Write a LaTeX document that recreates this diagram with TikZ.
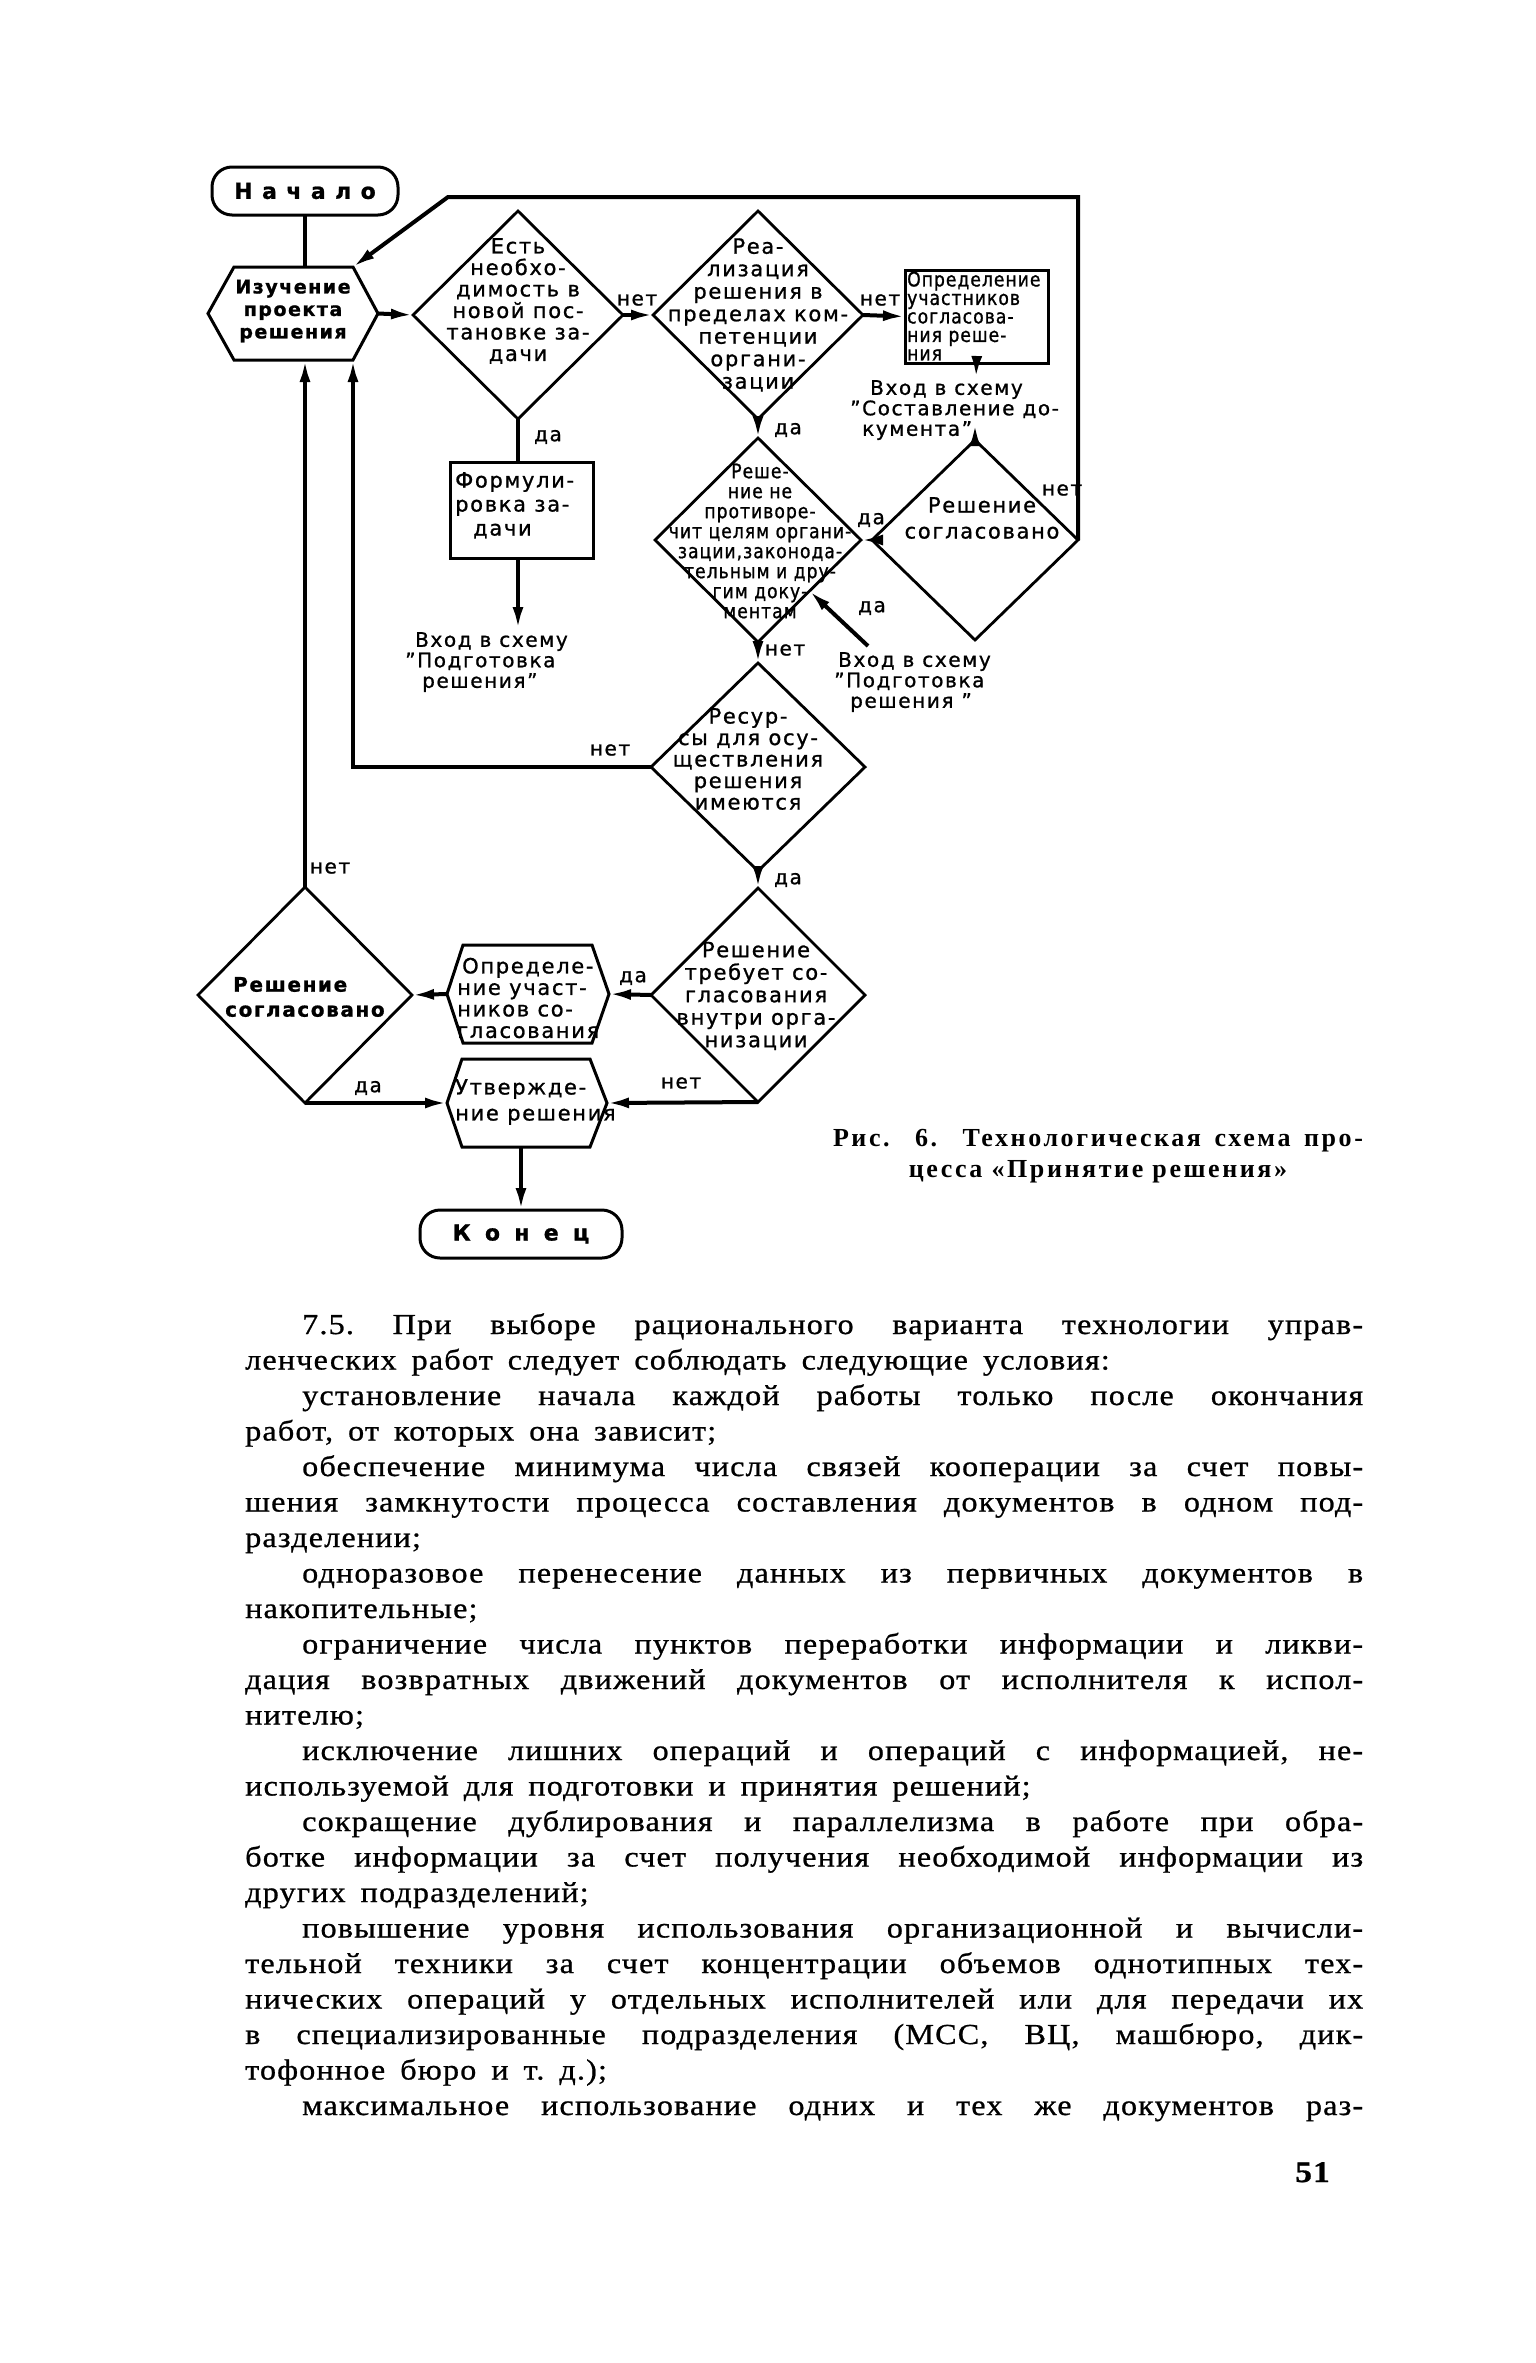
\documentclass[tikz,border=0pt]{standalone}
\usepackage{fontspec}
\setmainfont{Liberation Serif}[LetterSpace=4,FakeBold=0.8,FakeStretch=1.11]
\newfontfamily\fc{DejaVu Sans}[LetterSpace=8,FakeBold=1]
\newfontfamily\fcc{DejaVu Sans}[LetterSpace=5,FakeStretch=0.86,FakeBold=1]
\newfontfamily\capf{Liberation Serif}[LetterSpace=10]
\usetikzlibrary{shapes.geometric,arrows.meta,calc}
\newcommand\bodyJ[1]{\hbox to\hsize{#1}}
\newcommand\bodyJI[1]{\hbox to\hsize{\hskip57pt #1}}
\newcommand\bodyL[1]{\hbox{#1}}
\begin{document}
\begin{tikzpicture}[x=1pt,y=-1pt,
 dia/.style={draw, diamond, line width=2.8pt, inner sep=0pt, outer sep=0pt},
 rbox/.style={draw, rectangle, line width=3pt, inner sep=0pt, outer sep=0pt},
 term/.style={draw, rectangle, rounded corners=20pt, line width=3pt, inner sep=0pt, outer sep=0pt, font={\fc\bfseries\fontsize{22}{22}\selectfont}},
 hexo/.style={line width=3pt},
 ln/.style={line width=4pt},
 arr/.style={line width=4pt, -{Latex[length=22pt,width=11pt]}},
 lab/.style={font={\fc\fontsize{20}{20}\selectfont}, inner sep=0pt},
 txt/.style={font={\fc\fontsize{21}{21.5}\selectfont}, align=center, inner sep=0pt},
 ctxt/.style={font={\fcc\fontsize{20}{20}\selectfont}, align=center, inner sep=0pt},
 ptxt/.style={font={\fc\fontsize{20}{20.5}\selectfont}, align=left, inner sep=0pt, anchor=north west},
]
\fill[white] (0,0) rectangle (1535,2363);
\useasboundingbox (0,0) rectangle (1535,2363);

% ---------- shapes ----------
\node[term, minimum width=186pt, minimum height=48pt] (nach) at (305,191) {Н а ч а л о};

\node[inner sep=0pt, outer sep=0pt, minimum width=119pt, minimum height=93pt] (izu) at (293.5,313.5) {};
\coordinate (izuL) at ($(izu.west)+(-26,0)$);
\coordinate (izuR) at ($(izu.east)+(25,0)$);
\draw[hexo] (izu.north west) -- (izu.north east) -- (izuR) -- (izu.south east) -- (izu.south west) -- (izuL) -- cycle;

\node[dia, minimum width=210pt, minimum height=208pt] (d1) at (518,315) {};
\node[dia, minimum width=210pt, minimum height=208pt] (d2) at (758,315) {};
\node[rbox, minimum width=143pt, minimum height=93pt] (box1) at (976.5,316.5) {};
\node[rbox, minimum width=143pt, minimum height=96pt] (box2) at (521.5,510) {};
\node[dia, minimum width=206pt, minimum height=204pt] (d3) at (758,540) {};
\node[dia, minimum width=206pt, minimum height=200pt] (d4) at (975,540) {};
\node[dia, minimum width=214pt, minimum height=208pt] (d5) at (758,767) {};
\node[dia, minimum width=214pt, minimum height=214pt] (d6) at (758,995) {};
\node[dia, minimum width=214pt, minimum height=216pt] (d7) at (305,995) {};

\node[inner sep=0pt, outer sep=0pt, minimum width=129pt, minimum height=98pt] (hex2) at (527.5,994) {};
\coordinate (hex2L) at ($(hex2.west)+(-16,0)$);
\coordinate (hex2R) at ($(hex2.east)+(17,0)$);
\draw[hexo] (hex2.north west) -- (hex2.north east) -- (hex2R) -- (hex2.south east) -- (hex2.south west) -- (hex2L) -- cycle;

\node[inner sep=0pt, outer sep=0pt, minimum width=128pt, minimum height=88pt] (hex3) at (526,1103) {};
\coordinate (hex3L) at ($(hex3.west)+(-15,0)$);
\coordinate (hex3R) at ($(hex3.east)+(17,0)$);
\draw[hexo] (hex3.north west) -- (hex3.north east) -- (hex3R) -- (hex3.south east) -- (hex3.south west) -- (hex3L) -- cycle;

\node[term, minimum width=202pt, minimum height=48pt] (konec) at (521,1234) {\addfontfeature{LetterSpace=30}К о н е ц};

% ---------- texts in shapes ----------
\node[txt, font={\fc\bfseries\fontsize{19}{22.5}\selectfont}] (tizu) at (293,311) {Изучение\\проекта\\решения};
\node[txt] (td1) at (518,301) {Есть\\необхо-\\димость в\\новой пос-\\тановке за-\\дачи};
\node[txt, font={\fc\fontsize{21}{22.5}\selectfont}] (td2) at (758,315) {Реа-\\лизация\\решения в\\пределах ком-\\петенции\\органи-\\зации};
\node[ctxt, font={\fcc\fontsize{20}{18.5}\selectfont}, align=left, anchor=west] (tbox1) at (907,316) {Определение\\участников\\согласова-\\ния реше-\\ния};
\node[txt, font={\fc\fontsize{21}{24}\selectfont}, align=left, anchor=north west] (tbox2) at (455,472) {Формули-\\ровка за-\\\hspace*{18pt}дачи};
\node[ptxt] (vx3) at (405,632) {\hspace*{10pt}Вход в схему\\”Подготовка\\\hspace*{17pt}решения”};
\node[ptxt] (vx1) at (850,380) {\hspace*{20pt}Вход в схему\\”Составление до-\\\hspace*{12pt}кумента”};
\node[txt, font={\fc\fontsize{21}{26}\selectfont}] (td4) at (982,518) {Решение\\согласовано};
\node[ctxt] (td3) at (760,541) {Реше-\\ние не\\противоре-\\чит целям органи-\\зации,законода-\\тельным и дру-\\гим доку-\\ментам};
\node[ptxt] (vx2) at (834,652) {\hspace*{4pt}Вход в схему\\”Подготовка\\\hspace*{16pt}решения ”};
\node[txt] (td5) at (748,759) {Ресур-\\сы для осу-\\ществления\\решения\\имеются};
\node[txt, font={\fc\fontsize{21}{22.5}\selectfont}] (td6) at (756,996) {Решение\\требует со-\\гласования\\внутри орга-\\низации};
\node[txt, font={\fc\bfseries\fontsize{20}{25}\selectfont}, align=left, anchor=west] (td7) at (225,997) {\hspace*{8pt}Решение\\согласовано};
\node[txt, align=left, anchor=west] (thex2) at (457,998) {\hspace*{5pt}Определе-\\ние участ-\\ников со-\\гласования};
\node[txt, font={\fc\fontsize{21}{26}\selectfont}, align=left, anchor=west] (thex3) at (455,1102) {Утвержде-\\ние решения};

% ---------- connectors ----------
\coordinate (vx1a) at (976,378);
\coordinate (vx1b) at (975,424);
\coordinate (vx3a) at (518,629);
\coordinate (vx2a) at (868,646);
\coordinate (topL) at (448,197);
\draw[ln] (nach.south) -- (nach.south |- izu.north);
\draw[arr] (izuR) -- (d1.west);
\draw[arr] (d1.east) -- (d2.west);
\draw[arr] (d2.east) -- (box1.west);
\draw[arr] (box1.south) -- (vx1a);
\draw[ln] (d1.south) -- (d1.south |- box2.north);
\draw[arr] (d1.south |- box2.south) -- (vx3a);
\draw[arr] (d2.south) -- (d3.north);
\draw[arr] (d4.north) -- (vx1b);
\draw[arr] (d4.west) -- (d3.east);
\draw[arr] (d4.east) |- (topL) -- (izu.north east);
\draw[arr] (vx2a) -- (d3.south east);
\draw[arr] (d3.south) -- (d5.north);
\draw[arr] (d5.west) -| (izu.south east);
\draw[arr] (d5.south) -- (d6.north);
\draw[arr] (d6.west) -- (hex2R);
\draw[arr] (hex2L) -- (d7.east);
\draw[arr] (d7.north) -- (d7.north |- izu.south);
\draw[arr] (d7.south) -- (hex3L);
\draw[arr] (d6.south) -- (hex3R);
\draw[arr] (hex3.south -| konec.north) -- (konec.north);

% ---------- labels ----------
\node[lab] (l1) at (637,300) {нет};
\node[lab] (l2) at (548,437) {да};
\node[lab] (l3) at (880,300) {нет};
\node[lab] (l4) at (788,430) {да};
\node[lab] (l5) at (1062,490) {нет};
\node[lab] (l6) at (871,520) {да};
\node[lab] (l7) at (872,608) {да};
\node[lab] (l8) at (785,650) {нет};
\node[lab] (l9) at (610,750) {нет};
\node[lab] (l10) at (788,880) {да};
\node[lab] (l11) at (330,868) {нет};
\node[lab] (l12) at (633,978) {да};
\node[lab] (l13) at (368,1088) {да};
\node[lab] (l14) at (681,1083) {нет};

% ---------- caption ----------
\node[font={\capf\bfseries\fontsize{26}{26}\selectfont}, inner sep=0pt] (cap1) at (1098,1141) {\makebox[530pt][s]{Рис. 6. Технологическая схема про-}};
\node[font={\capf\bfseries\fontsize{26}{26}\selectfont}, inner sep=0pt] (cap2) at (1098,1172) {цесса «Принятие решения»};

% ---------- body text ----------
\node[anchor=base west, inner sep=0pt, font={\fontsize{29}{35.5}\selectfont}] (body) at (245,1334) {\vtop{\hsize=1118pt \baselineskip=35.5pt \lineskiplimit=-100pt \lineskip=0pt \frenchspacing \spaceskip=15pt plus 30pt minus 3pt
\bodyJI{7.5. При выборе рационального варианта технологии управ-}
\bodyL{ленческих работ следует соблюдать следующие условия:}
\bodyJI{установление начала каждой работы только после окончания}
\bodyL{работ, от которых она зависит;}
\bodyJI{обеспечение минимума числа связей кооперации за счет повы-}
\bodyJ{шения замкнутости процесса составления документов в одном под-}
\bodyL{разделении;}
\bodyJI{одноразовое перенесение данных из первичных документов в}
\bodyL{накопительные;}
\bodyJI{ограничение числа пунктов переработки информации и ликви-}
\bodyJ{дация возвратных движений документов от исполнителя к испол-}
\bodyL{нителю;}
\bodyJI{исключение лишних операций и операций с информацией, не-}
\bodyL{используемой для подготовки и принятия решений;}
\bodyJI{сокращение дублирования и параллелизма в работе при обра-}
\bodyJ{ботке информации за счет получения необходимой информации из}
\bodyL{других подразделений;}
\bodyJI{повышение уровня использования организационной и вычисли-}
\bodyJ{тельной техники за счет концентрации объемов однотипных тех-}
\bodyJ{нических операций у отдельных исполнителей или для передачи их}
\bodyJ{в специализированные подразделения (МСС, ВЦ, машбюро, дик-}
\bodyL{тофонное бюро и т. д.);}
\bodyJI{максимальное использование одних и тех же документов раз-}
}};
\node[font={\bfseries\fontsize{30}{30}\selectfont}, anchor=base east, inner sep=0pt] (pg) at (1330,2182) {51};
\end{tikzpicture}
\end{document}
